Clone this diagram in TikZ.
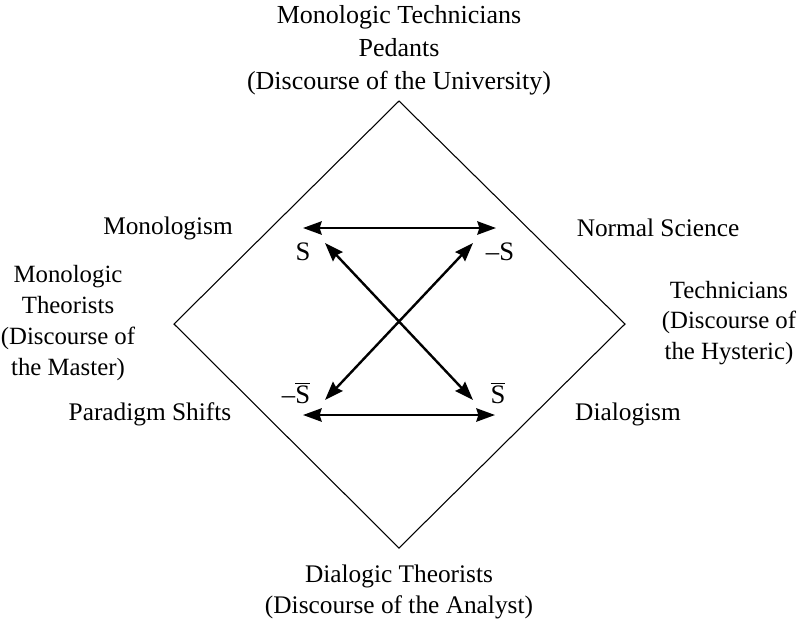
\documentclass[tikz,border=0pt]{standalone}
\usepackage{fontspec}
\setmainfont{Liberation Serif}
\usetikzlibrary{arrows.meta}
\tikzset{
  lbl/.style={inner sep=0pt, align=center, font=\fontsize{19}{23.2}\selectfont},
  sidelbl/.style={lbl, font=\fontsize{18.6}{23.2}\selectfont},
  toplbl/.style={lbl, font=\fontsize{19.5}{24.8}\selectfont},
  sym/.style={inner sep=0pt, font=\fontsize{20}{24}\selectfont},
  dbl/.style={line width=1.8pt, {Stealth[length=14pt,width=10pt,inset=1.5pt]}-{Stealth[length=14pt,width=10pt,inset=1.5pt]}},
  frame/.style={line width=0.8pt}
}
\begin{document}
\begin{tikzpicture}[x=0.75pt,y=-0.75pt]
\useasboundingbox (0,0) rectangle (797,619);

% diamond
\coordinate (T) at (399,101);
\coordinate (R) at (625,324);
\coordinate (B) at (399,548);
\coordinate (L) at (174,324);
\draw[frame] (T) -- (R) -- (B) -- (L) -- cycle;

% arrow end points
\coordinate (a1) at (303,228);
\coordinate (a2) at (496,228);
\coordinate (b1) at (303,415);
\coordinate (b2) at (495,415);
\coordinate (c1) at (325,243);
\coordinate (c2) at (473,400);
\coordinate (d1) at (473,243);
\coordinate (d2) at (325,400);

\draw[dbl] (a1) -- (a2);
\draw[dbl] (b1) -- (b2);
\draw[dbl] (c1) -- (c2);
\draw[dbl] (d1) -- (d2);

% corner symbols
\node[sym] (s1) at (303,252) {S};
\node[sym] (s2) at (500,252) {–S};
\node[sym] (s3) at (296,393) {–$\overline{\mbox{S}}$};
\node[sym] (s4) at (498,393) {$\overline{\mbox{S}}$};

% labels
\node[toplbl] (top) at (399,50) {Monologic Technicians\\Pedants\\(Discourse of the University)};
\node[lbl] (mono) at (168,228) {Monologism};
\node[lbl] (norm) at (658,228) {Normal Science};
\node[sidelbl] (left) at (68,323) {Monologic\\Theorists\\(Discourse of\\the Master)};
\node[sidelbl] (right) at (729,323) {Technicians\\(Discourse of\\the Hysteric)};
\node[lbl] (para) at (150,414) {Paradigm Shifts};
\node[lbl] (dial) at (628,414) {Dialogism};
\node[lbl] (bot) at (399,592) {Dialogic Theorists\\(Discourse of the Analyst)};
\end{tikzpicture}
\end{document}
